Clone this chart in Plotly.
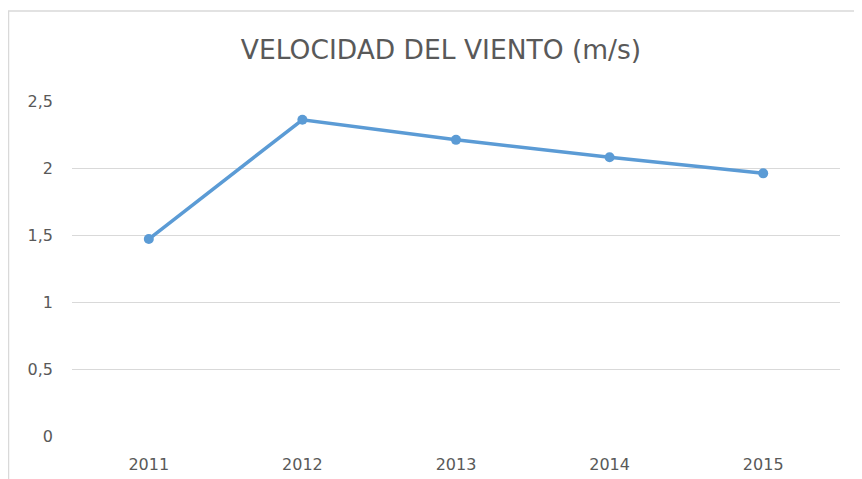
import plotly.graph_objects as go

years = ["2011", "2012", "2013", "2014", "2015"]
wind_speed = [1.47, 2.36, 2.21, 2.08, 1.96]
title_text = "VELOCIDAD DEL VIENTO (m/s)"
y_ticks = [0, 0.5, 1, 1.5, 2, 2.5]

# the page places the figure 8px from the window's top-left corner
OFF = 8
W, H = 862, 479
plot_l, plot_r, plot_t, plot_b = 72 - OFF, 840 - OFF, 101 - OFF, 436 - OFF
pw, ph = plot_r - plot_l, plot_b - plot_t

fig = go.Figure()
fig.add_trace(go.Scatter(
    x=years, y=wind_speed, mode="lines+markers",
    line=dict(color="#5B9BD5", width=3.5),
    marker=dict(color="#5B9BD5", size=10),
    showlegend=False,
))

fig.update_layout(
    width=W, height=H,
    margin=dict(l=plot_l, r=W - plot_r, t=plot_t, b=H - plot_b, autoexpand=False),
    paper_bgcolor="white", plot_bgcolor="white",
    separators=",.",
    font=dict(family="'DejaVu Sans', sans-serif", color="#595959", size=16),
    title=dict(text=title_text, x=(441 - OFF) / W, xref="container", xanchor="center",
               y=1 - (50 - OFF) / H, yanchor="middle",
               font=dict(size=26.5, color="#595959")),
    xaxis=dict(type="category", range=[-0.5, 4.5], showgrid=False, showline=False,
               zeroline=False, ticks="", ticklabelstandoff=17, automargin=False),
    yaxis=dict(range=[0, 2.5], tickvals=y_ticks, showgrid=True, gridcolor="#D9D9D9",
               gridwidth=1, zeroline=False, showline=False, ticks="",
               ticklabelstandoff=18, automargin=False),
    shapes=[dict(type="rect", xref="paper", yref="paper",
                 x0=(0.5 - plot_l) / pw, x1=1.3, y0=-0.3,
                 y1=(plot_b - (11 - OFF)) / ph,
                 line=dict(color="#D9D9D9", width=1.5), fillcolor="rgba(0,0,0,0)",
                 layer="below")],
)

fig.write_html("out.html")
